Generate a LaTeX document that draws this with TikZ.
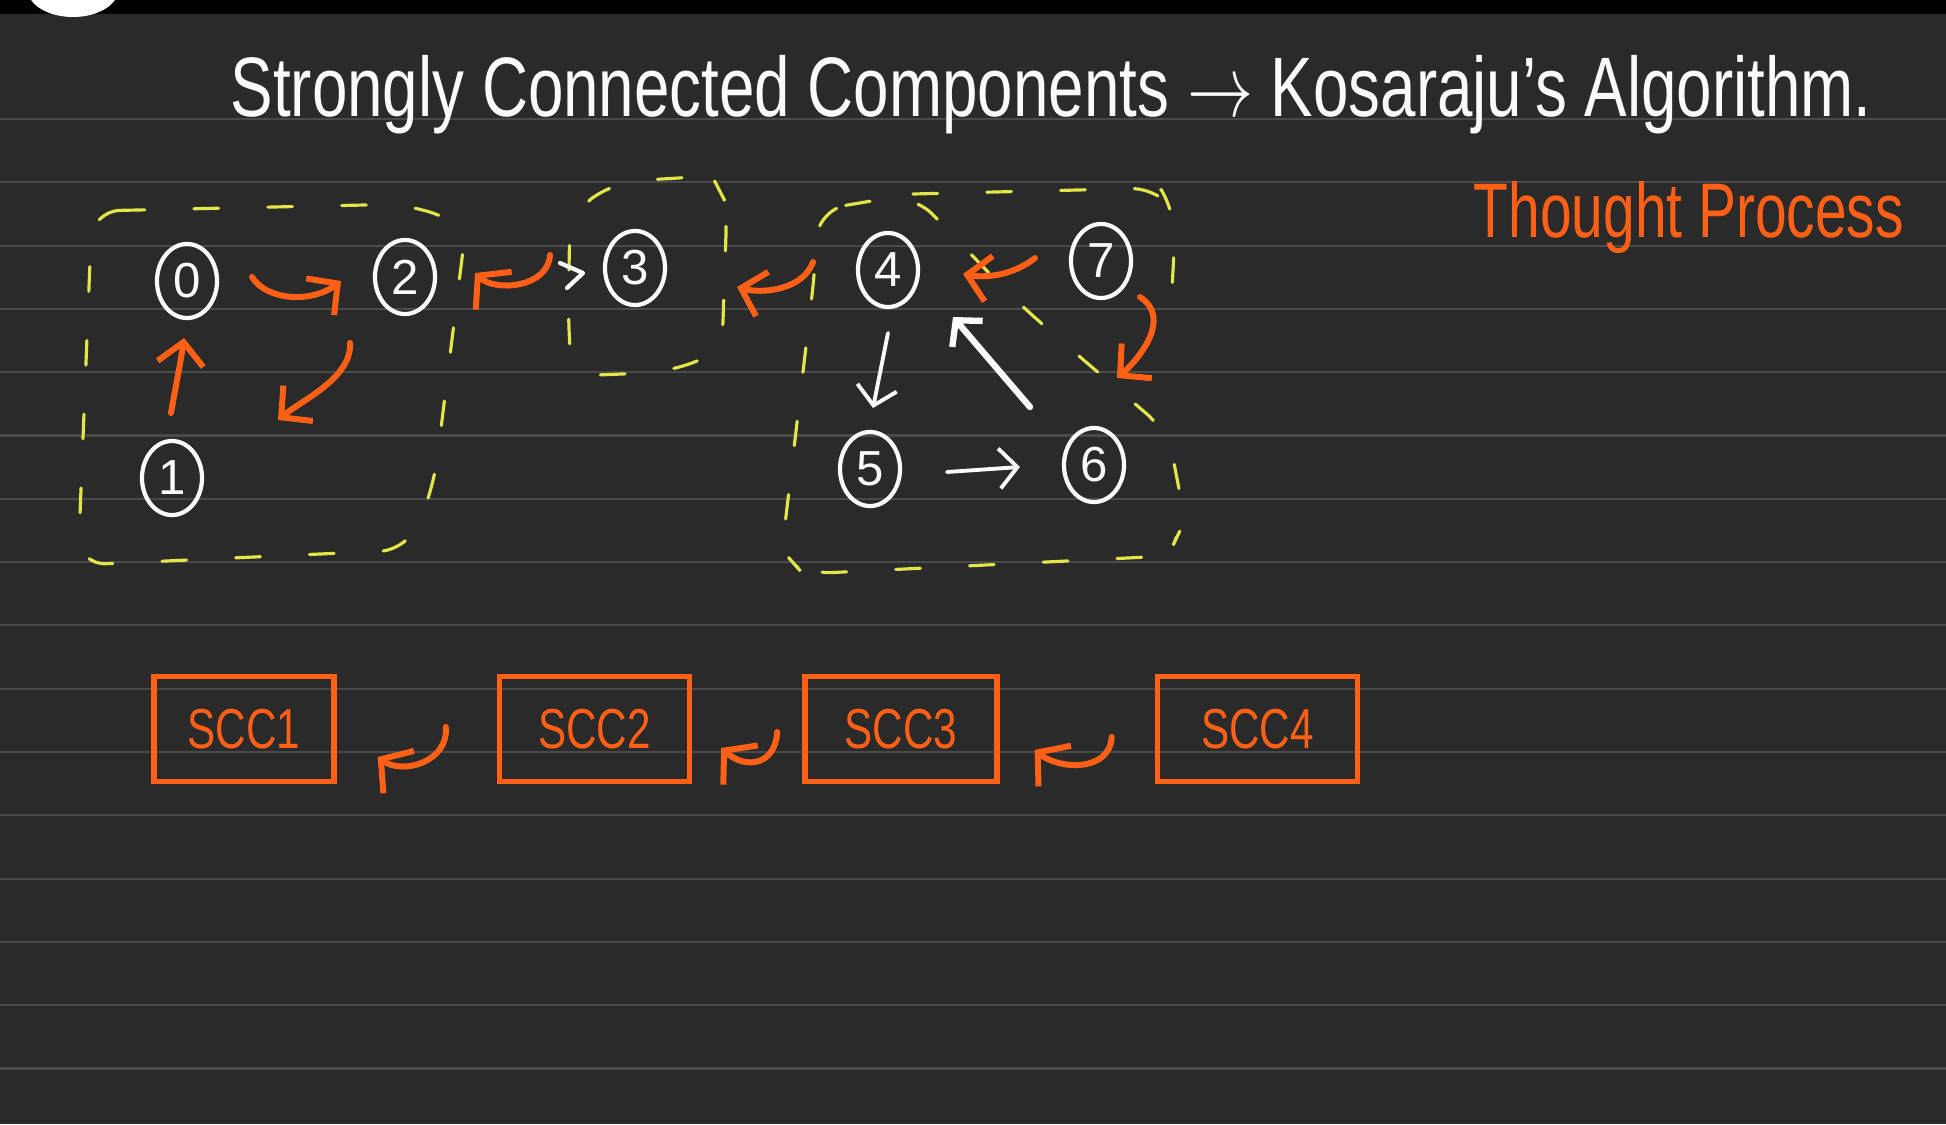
\documentclass[tikz,border=0pt]{standalone}
\usepackage{fontspec}
\setmainfont{Liberation Sans}
\usepackage{xcolor}
\definecolor{board}{RGB}{42,42,42}
\definecolor{ruling}{RGB}{74,74,74}
\definecolor{penorange}{RGB}{255,96,22}
\definecolor{penyellow}{RGB}{226,230,72}
\definecolor{chalk}{RGB}{250,250,250}
\usepackage{graphicx}
\usepackage{tikz}
\usetikzlibrary{
  shapes.geometric,
  arrows.meta, positioning, calc
}
\tikzset{
  vtx/.style={ellipse, draw=chalk, line width=1.2pt,
    minimum width=0.6cm, minimum height=0.74cm, inner sep=0pt,
    text=chalk, font=\fontsize{14}{16}\selectfont},
  sccbox/.style={draw=penorange, line width=1.5pt,
    minimum height=1.05cm, inner sep=0pt,
    text=penorange, font=\fontsize{16}{18}\selectfont},
  headtext/.style={inner sep=0pt, anchor=base west},
  orangearrow/.style={-{Straight Barb[length=2.2mm, width=4.6mm]},
    line width=1.7pt, color=penorange, line cap=round},
  revarrow/.style={-{Straight Barb[angle=100:3.4mm]},
    line width=1.7pt, color=penorange, line cap=round},
  whitearrow/.style={-{Straight Barb[length=1.8mm, width=4mm]},
    line width=1.1pt, color=chalk, line cap=round},
  sccline/.style={draw=penyellow, line width=0.9pt,
    dash pattern=on 7pt off 14pt, line cap=round, rounded corners=8pt},
  ruleline/.style={draw=ruling, line width=0.6pt}
}

\begin{document}
\begin{tikzpicture}[x=0.01cm, y=-0.01cm]

  \fill[board] (0,0) rectangle (1946,1124);
  \useasboundingbox (0,0) rectangle (1946,1124);
  \clip (0,0) rectangle (1946,1124);

  % ruled page
  \foreach \k in {0,...,15}
    \draw[ruleline] (0,{119+63.3*\k}) -- (1946,{119+63.3*\k});

  % screen bar
  \fill[black] (0,0) rectangle (1946,14);
  \fill[white] (73,-10) ellipse [x radius=45, y radius=27];

  % headings
  \node[headtext, text=chalk, font=\fontsize{24}{28}\selectfont] (title) at (230,116)
    {\resizebox{16.4cm}{\height}{Strongly Connected Components $\rightarrow$ Kosaraju's Algorithm.}};
  \node[headtext, text=penorange, font=\fontsize{22}{26}\selectfont] (thought) at (1473,237)
    {\resizebox{4.3cm}{\height}{Thought Process}};

  % graph
  \node[vtx] (n0) at (187,281)  {0};
  \node[vtx] (n2) at (405,277)  {2};
  \node[vtx] (n1) at (172,478)  {1};
  \node[vtx] (n3) at (635,268)  {3};
  \node[vtx] (n4) at (888,270)  {4};
  \node[vtx] (n7) at (1101,261) {7};
  \node[vtx] (n5) at (870,469)  {5};
  \node[vtx] (n6) at (1094,465) {6};

  % components marked in yellow
  \draw[sccline] (92,211) -- (410,204) -- (466,226) -- (434,485) -- (408,550) -- (78,565) -- cycle;
  \draw[sccline] (570,216) -- (612,182) -- (712,176) -- (727,205) -- (722,350)
    -- (672,372) -- (572,376) -- (568,320) -- cycle;
  \draw[sccline] (818,210) -- (913,194) -- (1015,300) -- (1066,345) -- (1168,432)
    -- (1185,520) -- (1168,556) -- (803,574) -- (782,550) -- (815,270) -- cycle;
  \draw[sccline] (913,194) -- (1160,188) -- (1176,212) -- (1172,290);

  % orange edges
  \draw[orangearrow] ($(n0)+(65,-4)$) .. controls ($(n0)+(80,20)$) and ($(n0)+(125,22)$) .. ($(n2)+(-64,4)$);
  \draw[orangearrow] ($(n1)+(-1,-65)$) .. controls ($(n1)+(4,-93)$) and ($(n1)+(9,-118)$) .. ($(n0)+(-3,57)$);
  \draw[orangearrow] ($(n2)+(-55,66)$) .. controls ($(n2)+(-53,101)$) and ($(n1)+(130,-78)$) .. ($(n1)+(106,-58)$);
  \draw[revarrow] ($(n3)+(-85,-13)$) .. controls ($(n3)+(-87,20)$) and ($(n2)+(90,15)$) .. ($(n2)+(70,-4)$);
  \draw[orangearrow] ($(n4)+(-75,-8)$) .. controls ($(n4)+(-85,20)$) and ($(n3)+(127,26)$) .. ($(n3)+(102,19)$);
  \draw[orangearrow] ($(n7)+(-66,-3)$) .. controls ($(n7)+(-89,15)$) and ($(n4)+(97,8)$) .. ($(n4)+(75,4)$);
  \draw[orangearrow] ($(n7)+(39,36)$) .. controls ($(n7)+(71,57)$) and ($(n6)+(46,-107)$) .. ($(n6)+(23,-87)$);

  % white edges
  \draw[chalk, line width=1.2pt, line cap=round, line join=round]
    ($(n3)+(-75,-5)$) -- ($(n3)+(-52,5)$) -- ($(n3)+(-68,20)$);
  \draw[whitearrow] ($(n4)+(0,63)$) -- ($(n5)+(3,-61)$);
  \draw[whitearrow, line width=1.8pt] ($(n6)+(-64,-58)$) -- ($(n4)+(65,47)$);
  \draw[whitearrow] ($(n5)+(77,3)$) -- ($(n6)+(-74,2)$);

  % component order
  \node[sccbox, minimum width=1.8cm] (scc1) at (244,729) {\scalebox{0.75}[1]{SCC1}};
  \node[sccbox, minimum width=1.9cm, right=1.6cm of scc1] (scc2) {\scalebox{0.75}[1]{SCC2}};
  \node[sccbox, minimum width=1.92cm, right=1.1cm of scc2] (scc3) {\scalebox{0.75}[1]{SCC3}};
  \node[sccbox, minimum width=2.0cm, right=1.55cm of scc3] (scc4) {\scalebox{0.75}[1]{SCC4}};

  \draw[revarrow] ($(scc2.west)+(-51,-2)$) .. controls ($(scc2.west)+(-48,33)$) and ($(scc1.east)+(66,46)$) .. ($(scc1.east)+(41,28)$);
  \draw[revarrow] ($(scc3.west)+(-25,3)$) .. controls ($(scc3.west)+(-27,36)$) and ($(scc2.east)+(54,41)$) .. ($(scc2.east)+(29,19)$);
  \draw[revarrow] ($(scc4.west)+(-43,8)$) .. controls ($(scc4.west)+(-45,43)$) and ($(scc3.east)+(60,41)$) .. ($(scc3.east)+(35,21)$);

\end{tikzpicture}
\end{document}
